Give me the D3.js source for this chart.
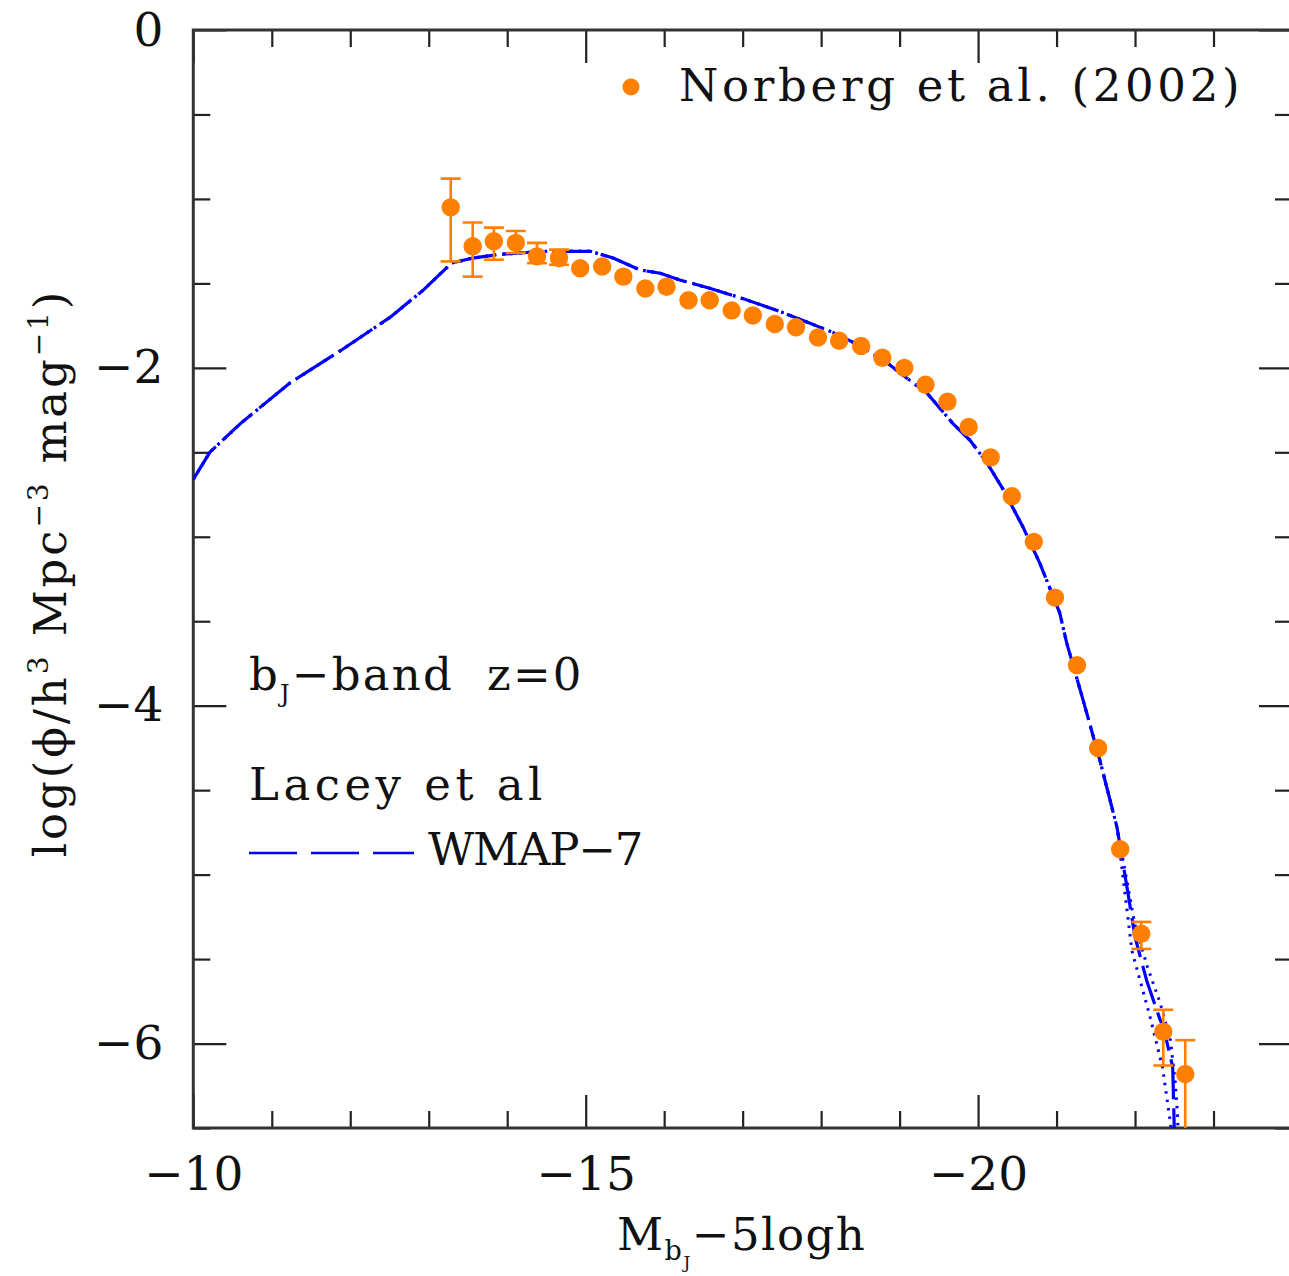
<!DOCTYPE html>
<html>
<head>
<meta charset="utf-8">
<script src="https://cdn.jsdelivr.net/npm/d3@7"></script>
<style>
  body { margin: 0; background: #fff; }
  text { font-family: "DejaVu Serif", serif; fill: #111; white-space: pre; }
</style>
</head>
<body>
<svg id="chart" width="1289" height="1276"></svg>
<script>
// Norberg et al. (2002) bJ-band luminosity function (log phi per bin)
const obsMag = [-13.28, -13.56, -13.83, -14.11, -14.38, -14.66, -14.93, -15.21, -15.48, -15.76,
                -16.03, -16.31, -16.58, -16.86, -17.13, -17.41, -17.68, -17.96, -18.23, -18.51,
                -18.78, -19.06, -19.33, -19.61, -19.88, -20.16, -20.43, -20.71, -20.98, -21.26,
                -21.53, -21.81, -22.08, -22.36, -22.64];
const obsLogPhi = [-1.05, -1.28, -1.25, -1.26, -1.34, -1.35, -1.41, -1.40, -1.46, -1.53,
                   -1.52, -1.60, -1.60, -1.66, -1.69, -1.74, -1.76, -1.82, -1.84, -1.87,
                   -1.94, -2.00, -2.10, -2.20, -2.35, -2.53, -2.76, -3.03, -3.36, -3.76,
                   -4.25, -4.85, -5.35, -5.93, -6.18];
// error bar ends (null where the bar is hidden behind the marker)
const obsErrHi = [-0.88, -1.14, -1.17, -1.19, -1.26, -1.30, null, null, null, null,
                  null, null, null, null, null, null, null, null, null, null,
                  null, null, null, null, null, null, null, null, null, null,
                  null, null, -5.28, -5.80, -5.98];
const obsErrLo = [-1.37, -1.46, -1.36, -1.32, -1.38, -1.39, null, null, null, null,
                  null, null, null, null, null, null, null, null, null, null,
                  null, null, null, null, null, null, null, null, null, null,
                  null, null, -5.44, -6.13, -7.00];

// Lacey et al. model, WMAP-7 cosmology
const modelMag = [-10.00, -10.21, -10.60, -11.23, -11.87, -12.51, -12.93, -13.29, -13.56, -13.87,
                  -14.16, -14.51, -14.80, -15.06, -15.35, -15.69, -15.95, -16.20, -16.59, -17.00,
                  -17.44, -17.77, -18.15, -18.50, -18.84, -19.09, -19.35, -19.68, -19.90, -20.11,
                  -20.32, -20.57, -20.79, -21.04, -21.13, -21.34, -21.55, -21.77, -21.91, -22.00,
                  -22.15, -22.32, -22.36, -22.48, -22.50, -22.51];
const modelLogPhi = [-2.66, -2.50, -2.33, -2.09, -1.90, -1.70, -1.54, -1.38, -1.35, -1.33,
                     -1.32, -1.31, -1.31, -1.31, -1.35, -1.42, -1.44, -1.48, -1.53, -1.59,
                     -1.66, -1.72, -1.79, -1.87, -1.97, -2.06, -2.15, -2.33, -2.43, -2.56,
                     -2.72, -2.94, -3.16, -3.45, -3.63, -3.97, -4.32, -4.72, -5.11, -5.37,
                     -5.63, -5.86, -5.90, -6.14, -6.50, -6.70];
// bright-end variants of the model (dotted)
const tailAMag = [-21.77, -21.96, -22.19, -22.35, -22.46, -22.48];
const tailALogPhi = [-4.72, -5.45, -5.84, -6.14, -6.50, -6.70];
const tailBMag = [-21.77, -22.00, -22.16, -22.32, -22.45, -22.51, -22.54, -22.56];
const tailBLogPhi = [-4.72, -5.30, -5.55, -5.76, -5.98, -6.22, -6.41, -6.70];

const xMajorTicks = [-10, -15, -20];
const xMinorTicks = [-11, -12, -13, -14, -16, -17, -18, -19, -21, -22, -23];
const yMajorTicks = [0, -2, -4, -6];
const yMinorTicks = [-0.5, -1, -1.5, -2.5, -3, -3.5, -4.5, -5, -5.5, -6.5];

const ORANGE = "#ff8000";
const BLUE = "#0000ff";

const svg = d3.select("#chart");
const plotL = 193.3, plotR = 1292, plotT = 30, plotB = 1128;

const x = d3.scaleLinear().domain([-10, -24]).range([plotL, plotR]);
const y = d3.scaleLinear().domain([0, -6.5]).range([plotT, plotB]);

svg.append("defs").append("clipPath").attr("id", "plotClip")
  .append("rect").attr("x", plotL).attr("y", plotT)
  .attr("width", plotR - plotL).attr("height", plotB - plotT);

// ---- axes (ticks point inward on all four sides) ----
const fmt = d3.format("d");
function styleAxis(g) {
  g.select(".domain").remove();
  g.selectAll(".tick line").attr("stroke", "#222").attr("stroke-width", 2.2);
  g.selectAll(".tick text").attr("font-family", "DejaVu Serif").attr("font-size", 47).attr("fill", "#111");
}
const MAJ = 33, MIN = 17;

svg.append("g").attr("transform", `translate(0,${plotB})`)
  .call(d3.axisBottom(x).tickValues(xMajorTicks).tickSize(-MAJ).tickPadding(29).tickFormat(fmt)).call(styleAxis);
svg.append("g").attr("transform", `translate(0,${plotB})`)
  .call(d3.axisBottom(x).tickValues(xMinorTicks).tickSize(-MIN).tickFormat("")).call(styleAxis);
svg.append("g").attr("transform", `translate(0,${plotT})`)
  .call(d3.axisTop(x).tickValues(xMajorTicks).tickSize(-MAJ).tickFormat("")).call(styleAxis);
svg.append("g").attr("transform", `translate(0,${plotT})`)
  .call(d3.axisTop(x).tickValues(xMinorTicks).tickSize(-MIN).tickFormat("")).call(styleAxis);

svg.append("g").attr("transform", `translate(${plotL},0)`)
  .call(d3.axisLeft(y).tickValues(yMajorTicks).tickSize(-MAJ).tickPadding(30).tickFormat(fmt)).call(styleAxis);
svg.append("g").attr("transform", `translate(${plotL},0)`)
  .call(d3.axisLeft(y).tickValues(yMinorTicks).tickSize(-MIN).tickFormat("")).call(styleAxis);
svg.append("g").attr("transform", `translate(${plotR},0)`)
  .call(d3.axisRight(y).tickValues(yMajorTicks).tickSize(-MAJ).tickFormat("")).call(styleAxis);
svg.append("g").attr("transform", `translate(${plotR},0)`)
  .call(d3.axisRight(y).tickValues(yMinorTicks).tickSize(-MIN).tickFormat("")).call(styleAxis);

// frame
svg.append("rect").attr("x", plotL).attr("y", plotT)
  .attr("width", plotR - plotL).attr("height", plotB - plotT)
  .attr("fill", "none").attr("stroke", "#333").attr("stroke-width", 3);

const plot = svg.append("g").attr("clip-path", "url(#plotClip)");

// ---- model curves ----
const line = d3.line().x(d => x(d[0])).y(d => y(d[1])).curve(d3.curveLinear);
const modelPts = modelMag.map((m, i) => [m, modelLogPhi[i]]);
const faintPart = modelPts.filter(d => d[0] >= -21.77);
const tailA = faintPart.concat(tailAMag.slice(1).map((m, i) => [m, tailALogPhi[i + 1]]));
const tailB = faintPart.concat(tailBMag.slice(1).map((m, i) => [m, tailBLogPhi[i + 1]]));

[tailA, tailB].forEach(pts => {
  plot.append("path").datum(pts).attr("d", line)
    .attr("fill", "none").attr("stroke", BLUE).attr("stroke-width", 3)
    .attr("stroke-dasharray", "2.5,6").attr("stroke-linecap", "butt");
});
plot.append("path").datum(modelPts).attr("d", line)
  .attr("fill", "none").attr("stroke", BLUE).attr("stroke-width", 3.2)
  .attr("stroke-dasharray", "40,9");

// ---- observational data ----
const obs = obsMag.map((m, i) => ({ m, v: obsLogPhi[i], hi: obsErrHi[i], lo: obsErrLo[i] }));
const errs = plot.append("g").attr("stroke", ORANGE).attr("stroke-width", 2.6).attr("fill", "none");
obs.filter(d => d.hi !== null).forEach(d => {
  const cx = x(d.m);
  errs.append("line").attr("x1", cx).attr("x2", cx).attr("y1", y(d.hi)).attr("y2", y(d.lo));
  errs.append("line").attr("x1", cx - 10).attr("x2", cx + 10).attr("y1", y(d.hi)).attr("y2", y(d.hi));
  errs.append("line").attr("x1", cx - 10).attr("x2", cx + 10).attr("y1", y(d.lo)).attr("y2", y(d.lo));
});
plot.append("g").selectAll("circle").data(obs).join("circle")
  .attr("cx", d => x(d.m)).attr("cy", d => y(d.v)).attr("r", 9.2).attr("fill", ORANGE);

// ---- legend and annotations ----
svg.append("circle").attr("cx", 631).attr("cy", 87).attr("r", 8.5).attr("fill", ORANGE);
svg.append("text").attr("x", 679).attr("y", 101).attr("font-size", 45)
  .attr("letter-spacing", 3.7).text("Norberg et al. (2002)");

const band = svg.append("text").attr("x", 249).attr("y", 690).attr("font-size", 45).attr("letter-spacing", 2.2);
band.append("tspan").text("b");
band.append("tspan").attr("font-size", 24).attr("dy", 12).text("J");
band.append("tspan").attr("dy", -12).text("\u2212band  z=0");

svg.append("text").attr("x", 249).attr("y", 800).attr("font-size", 45)
  .attr("letter-spacing", 4.5).text("Lacey et al");

svg.append("line").attr("x1", 249).attr("x2", 414).attr("y1", 853).attr("y2", 853)
  .attr("stroke", BLUE).attr("stroke-width", 2.5).attr("stroke-dasharray", "48,14");
svg.append("text").attr("x", 428).attr("y", 865).attr("font-size", 45)
  .attr("letter-spacing", -1.2).text("WMAP\u22127");

// axis titles
const xt = svg.append("text").attr("x", 617).attr("y", 1250).attr("font-size", 45).attr("letter-spacing", 1.5);
xt.append("tspan").text("M");
xt.append("tspan").attr("font-size", 27).attr("dy", 10).text("b");
xt.append("tspan").attr("font-size", 17).attr("dy", 8).text("J");
xt.append("tspan").attr("dy", -18).text("\u22125logh");

const yt = svg.append("text").attr("transform", "translate(66,573) rotate(-90)")
  .attr("text-anchor", "middle").attr("font-size", 45).attr("letter-spacing", 2.9);
yt.append("tspan").text("log(\u03d5/h");
yt.append("tspan").attr("font-size", 28).attr("dy", -18).text("3");
yt.append("tspan").attr("dy", 18).text(" Mpc");
yt.append("tspan").attr("font-size", 28).attr("dy", -18).text("\u22123");
yt.append("tspan").attr("dy", 18).text(" mag");
yt.append("tspan").attr("font-size", 28).attr("dy", -18).text("\u22121");
yt.append("tspan").attr("dy", 18).text(")");
</script>
</body>
</html>
